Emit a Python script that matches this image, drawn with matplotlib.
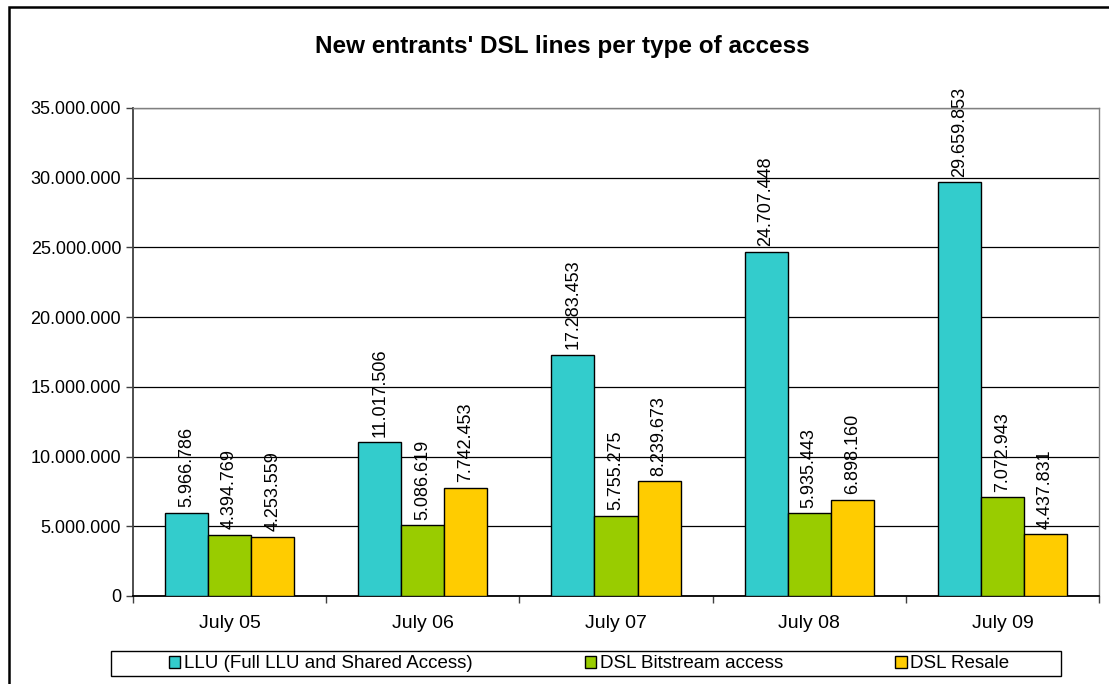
import numpy as np
import matplotlib
matplotlib.use('Agg')
import matplotlib.pyplot as plt
from matplotlib.patches import Rectangle

plt.rcParams['font.family'] = ['Liberation Sans', 'DejaVu Sans']

# data
periods = ['July 05', 'July 06', 'July 07', 'July 08', 'July 09']
llu = [5966786, 11017506, 17283453, 24707448, 29659853]
bitstream = [4394769, 5086619, 5755275, 5935443, 7072943]
resale = [4253559, 7742453, 8239673, 6898160, 4437831]
series_names = ['LLU (Full LLU and Shared Access)', 'DSL Bitstream access', 'DSL Resale']
colors = ['#33CCCC', '#99CC00', '#FFCC00']
yticks = np.arange(0, 35000001, 5000000)


def dots(v):
    return f"{int(v):,}".replace(',', '.')


W, H = 1109, 684
fig = plt.figure(figsize=(W / 100, H / 100), dpi=100)
# outer chart frame (only left and top visible in the reference)
fig.patches.append(Rectangle((9 / W, -0.2), 1.2, 1.2 - 7 / H,
                             transform=fig.transFigure, fill=False,
                             edgecolor='black', linewidth=1.8))

ax = fig.add_axes([133 / W, 88 / H, 966 / W, 488 / H])

x = np.arange(len(periods))
w = 0.223
for i, (vals, c, name) in enumerate(zip([llu, bitstream, resale], colors, series_names)):
    b = ax.bar(x + (i - 1) * w, vals, width=w, color=c, edgecolor='black',
               linewidth=1.0, label=name, zorder=3)
    ax.bar_label(b, labels=[dots(v) for v in vals], rotation=90, padding=4,
                 fontsize=13, zorder=4)

ax.set_xlim(-0.5, len(periods) - 0.5)
ax.set_ylim(0, 35000000)
ax.set_yticks(yticks)
ax.set_yticklabels([dots(v) for v in yticks], fontsize=13)
ax.yaxis.grid(True, color='black', linewidth=0.9, zorder=0)
ax.set_axisbelow(True)

ax.set_xticks(x)
ax.set_xticklabels(periods, fontsize=14)
ax.tick_params(axis='x', which='major', length=0, pad=14)
ax.set_xticks(np.arange(-0.5, len(periods), 1), minor=True)
ax.tick_params(axis='x', which='minor', length=5, width=1, color='#404040')
ax.tick_params(axis='y', length=5, width=1, color='#404040')

for s in ['left', 'bottom']:
    ax.spines[s].set_color('#404040')
    ax.spines[s].set_linewidth(1.3)
for s in ['top', 'right']:
    ax.spines[s].set_color('#808080')
    ax.spines[s].set_linewidth(1.0)
ax.spines['bottom'].set_color('black')

fig.text(562 / W, 1 - 53 / H, "New entrants' DSL lines per type of access",
         ha='center', va='baseline', fontsize=17.5, fontweight='bold')

# legend box drawn separately, entries centred inside it
fig.patches.append(Rectangle((111 / W, 8 / H), 950 / W, 25 / H,
                             transform=fig.transFigure, fill=False,
                             edgecolor='black', linewidth=1.0))
leg = fig.legend(loc='center', bbox_to_anchor=(589 / W, 1 - 664 / H),
                 ncol=3, frameon=False, prop={'size': 13.5},
                 handlelength=0.6, handleheight=0.6, handletextpad=0.2,
                 columnspacing=6.0, borderpad=0, borderaxespad=0)

fig.savefig('out.png', dpi=100)
